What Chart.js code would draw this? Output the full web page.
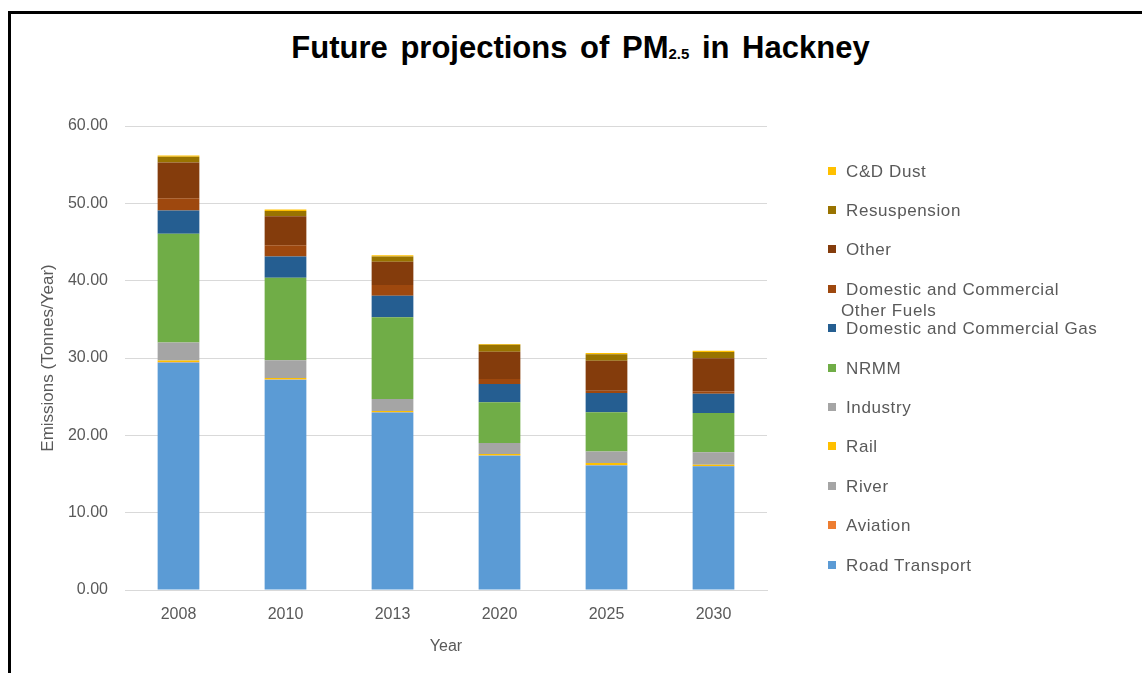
<!DOCTYPE html>
<html>
<head>
<meta charset="utf-8">
<script src="https://cdn.jsdelivr.net/npm/chart.js@4.4.1/dist/chart.umd.min.js"></script>
<style>
html, body { margin: 0; padding: 0; background: #fff; }
#wrap { position: relative; width: 1142px; height: 673px; overflow: hidden; font-family: "Liberation Sans", Arial, sans-serif; }
#frame { position: absolute; left: 8px; top: 11px; width: 1200px; height: 700px; border-top: 3px solid #000; border-left: 3px solid #000; }
#title { position: absolute; left: 0; width: 1161px; top: 30px; text-align: center; font-weight: bold; font-size: 31px; word-spacing: 4px; color: #000; white-space: nowrap; }
#title sub { font-size: 15px; vertical-align: -1px; }
canvas { position: absolute; left: 0; top: 0; }
#legend { position: absolute; left: 826px; top: 0; }
.item { position: absolute; left: 0; white-space: nowrap; font-size: 17px; letter-spacing: 0.6px; color: #595959; line-height: 21px; }
.box { position: absolute; left: 2px; top: 6px; width: 8px; height: 8px; }
.txt { position: absolute; left: 15px; top: 0; text-indent: 5px; white-space: pre; }
</style>
</head>
<body>
<div id="wrap">
  <div id="frame"></div>
  <div id="title">Future projections of PM<sub>2.5</sub> in Hackney</div>
  <canvas id="chart" width="1142" height="673"></canvas>
  <div id="legend"></div>
</div>
<script>
// categories
var years = ['2008', '2010', '2013', '2020', '2025', '2030'];

// series, bottom of the stack first
var roadTransport = [29.4, 27.15, 22.95, 17.35, 16.1, 16.0];
var aviation      = [0.02, 0.02, 0.02, 0.02, 0.02, 0.02];
var river         = [0.05, 0.05, 0.03, 0.03, 0.05, 0.03];
var rail          = [0.2, 0.2, 0.15, 0.2, 0.25, 0.15];
var industry      = [2.35, 2.3, 1.55, 1.4, 1.5, 1.6];
var nrmm          = [14.05, 10.65, 10.56, 5.27, 5.05, 5.09];
var domGas        = [3.0, 2.75, 2.8, 2.37, 2.5, 2.5];
var domOtherFuels = [1.6, 1.45, 1.38, 0.64, 0.3, 0.3];
var other         = [4.6, 3.75, 3.0, 3.54, 3.88, 4.27];
var resuspension  = [0.75, 0.7, 0.7, 0.9, 0.85, 0.82];
var cdDust        = [0.15, 0.17, 0.15, 0.1, 0.15, 0.17];

var seriesNames = ['Road Transport', 'Aviation', 'River', 'Rail', 'Industry', 'NRMM',
  'Domestic and Commercial Gas', 'Domestic and Commercial\nOther Fuels', 'Other', 'Resuspension', 'C&D Dust'];
var seriesData = [roadTransport, aviation, river, rail, industry, nrmm,
  domGas, domOtherFuels, other, resuspension, cdDust];
var seriesColors = ['#5B9BD5', '#ED7D31', '#A5A5A5', '#FFC000', '#A5A5A5', '#70AD47',
  '#255E91', '#9E480E', '#843C0C', '#997300', '#FFC000'];

// y axis ticks
var yMin = 0, yMax = 60, yStep = 10;

var datasets = seriesNames.map(function (name, i) {
  return {
    label: name.replace('\n', ' '),
    data: seriesData[i],
    backgroundColor: seriesColors[i],
    borderWidth: 0,
    barPercentage: 0.39,
    categoryPercentage: 1.0
  };
});

var textColor = '#595959';

var ctx = document.getElementById('chart').getContext('2d');
var myChart = new Chart(ctx, {
  type: 'bar',
  data: { labels: years, datasets: datasets },
  options: {
    responsive: false,
    animation: false,
    layout: { padding: { left: 20, right: 375, top: 126, bottom: 13 } },
    plugins: {
      legend: { display: false },
      title: { display: false },
      tooltip: { enabled: false }
    },
    scales: {
      x: {
        stacked: true,
        grid: { display: false, drawTicks: false },
        border: { display: true, color: '#d9d9d9', width: 1 },
        ticks: { color: textColor, font: { family: 'Liberation Sans', size: 16 }, padding: 15 },
        title: { display: true, text: 'Year', color: textColor, font: { family: 'Liberation Sans', size: 16 }, padding: { top: 4, bottom: 4 } },
        afterFit: function (scale) { scale.height = 70; }
      },
      y: {
        stacked: true,
        min: yMin,
        max: yMax,
        grid: { color: '#d9d9d9', lineWidth: 1, drawTicks: false },
        border: { display: false },
        ticks: {
          stepSize: yStep,
          color: textColor,
          font: { family: 'Liberation Sans', size: 16 },
          padding: 17,
          callback: function (v) { return Number(v).toFixed(2); }
        },
        title: { display: true, text: 'Emissions (Tonnes/Year)', color: textColor, font: { family: 'Liberation Sans', size: 17 }, padding: { top: 18, bottom: 0 } },
        afterFit: function (scale) { scale.width = 105; }
      }
    }
  }
});

// legend on the right, top of the stack first
var legend = document.getElementById('legend');
var firstY = 171, gapY = 39.4;
for (var k = 0; k < seriesNames.length; k++) {
  var i = seriesNames.length - 1 - k;
  var item = document.createElement('div');
  item.className = 'item';
  item.style.top = (firstY + k * gapY - 10.5) + 'px';
  var box = document.createElement('div');
  box.className = 'box';
  box.style.background = seriesColors[i];
  var txt = document.createElement('div');
  txt.className = 'txt';
  txt.textContent = seriesNames[i];
  item.appendChild(box);
  item.appendChild(txt);
  legend.appendChild(item);
}
</script>
</body>
</html>
